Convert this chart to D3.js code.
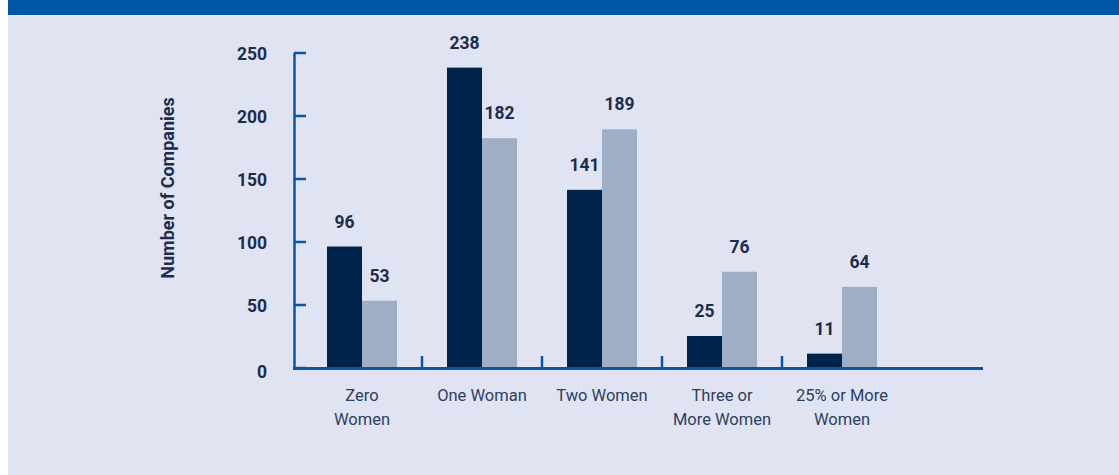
<!DOCTYPE html>
<html>
<head>
<meta charset="utf-8">
<script src="https://cdn.jsdelivr.net/npm/d3@7"></script>
<style>
  body { margin: 0; background: #fff; }
  svg { display: block; }
</style>
</head>
<body>
<svg width="1119" height="475"></svg>
<script>
const categories = [["Zero", "Women"], ["One Woman"], ["Two Women"],
    ["Three or", "More Women"], ["25% or More", "Women"]]
const darkValues = [96, 238, 141, 25, 11]
const lightValues = [53, 182, 189, 76, 64]
const yTicks = [0, 50, 100, 150, 200, 250]

const navy = "#00234b"
const grey = "#9eaec7"
const axisBlue = "#0b56a5"
const textDark = "#1c2d4e"

const svg = d3.select("svg")

// background panel + blue band on top
svg.append("rect").attr("x", 8).attr("y", 0).attr("width", 1111).attr("height", 475)
    .attr("fill", "#e0e3f1")
svg.append("rect").attr("x", 8).attr("y", 0).attr("width", 1111).attr("height", 15)
    .attr("fill", "#0055a5")

const keys = categories.map(c => c.join(" "))
const rows = keys.map((k, i) => ({key: k, lines: categories[i], dark: darkValues[i], light: lightValues[i]}))

const yScale = d3.scaleLinear().domain([0, 250]).range([367.5, 52.5])
const xScale = d3.scaleBand().domain(keys).range([302, 902])
const inner = d3.scaleBand().domain(["dark", "light"]).range([25, 95])

const yAxis = d3.axisLeft(yScale).tickValues(yTicks)
    .tickSizeInner(-12).tickSizeOuter(0).tickPadding(27)

const yG = svg.append("g")
    .attr("transform", "translate(294, 0)")
    .call(yAxis)
yG.select(".domain").attr("stroke", axisBlue).attr("stroke-width", 2.5)
yG.selectAll(".tick line").attr("stroke", axisBlue).attr("stroke-width", 2.5)
yG.selectAll(".tick text")
    .attr("fill", textDark)
    .attr("dy", d => d == 0 ? "0.55em" : "0.4em")
    .style("font-family", "Roboto, sans-serif")
    .style("font-size", "17.5px")
    .style("font-weight", "bold")

svg.append("text")
    .attr("transform", "translate(174, 188) rotate(-90)")
    .attr("text-anchor", "middle")
    .attr("fill", textDark)
    .style("font-family", "Roboto, sans-serif")
    .style("font-size", "18px")
    .style("font-weight", "bold")
    .text("Number of Companies")

// bars
const groups = svg.append("g")
    .selectAll("g")
    .data(rows)
    .enter()
    .append("g")
    .attr("transform", d => `translate(${xScale(d.key)}, 0)`)

groups.selectAll("rect")
    .data(d => [{s: "dark", v: d.dark}, {s: "light", v: d.light}])
    .enter()
    .append("rect")
    .attr("x", d => inner(d.s))
    .attr("y", d => yScale(d.v))
    .attr("width", inner.bandwidth())
    .attr("height", d => yScale(0) - yScale(d.v))
    .attr("fill", d => d.s == "dark" ? navy : grey)

groups.selectAll("text.val")
    .data(d => [{s: "dark", v: d.dark}, {s: "light", v: d.light}])
    .enter()
    .append("text")
    .attr("class", "val")
    .attr("x", d => inner(d.s) + inner.bandwidth() / 2)
    .attr("y", d => yScale(d.v) - 19)
    .attr("text-anchor", "middle")
    .attr("fill", textDark)
    .style("font-family", "Roboto, sans-serif")
    .style("font-size", "17.5px")
    .style("font-weight", "bold")
    .text(d => d.v)

// category labels
groups.each(function(d) {
    d3.select(this).selectAll("text.cat")
        .data(d.lines)
        .enter()
        .append("text")
        .attr("class", "cat")
        .attr("x", xScale.bandwidth() / 2)
        .attr("y", (l, i) => 401 + i * 24)
        .attr("text-anchor", "middle")
        .attr("fill", "#2c4064")
        .style("font-family", "Roboto, sans-serif")
        .style("font-size", "16.5px")
        .text(l => l)
})

// separators between groups
svg.append("g")
    .selectAll("line")
    .data(keys.slice(1))
    .enter()
    .append("line")
    .attr("x1", d => xScale(d))
    .attr("x2", d => xScale(d))
    .attr("y1", 356)
    .attr("y2", 367)
    .attr("stroke", axisBlue)
    .attr("stroke-width", 2.5)

// baseline
svg.append("line")
    .attr("x1", 293).attr("x2", 983)
    .attr("y1", yScale(0) + 1).attr("y2", yScale(0) + 1)
    .attr("stroke", axisBlue)
    .attr("stroke-width", 3)
</script>
</body>
</html>
